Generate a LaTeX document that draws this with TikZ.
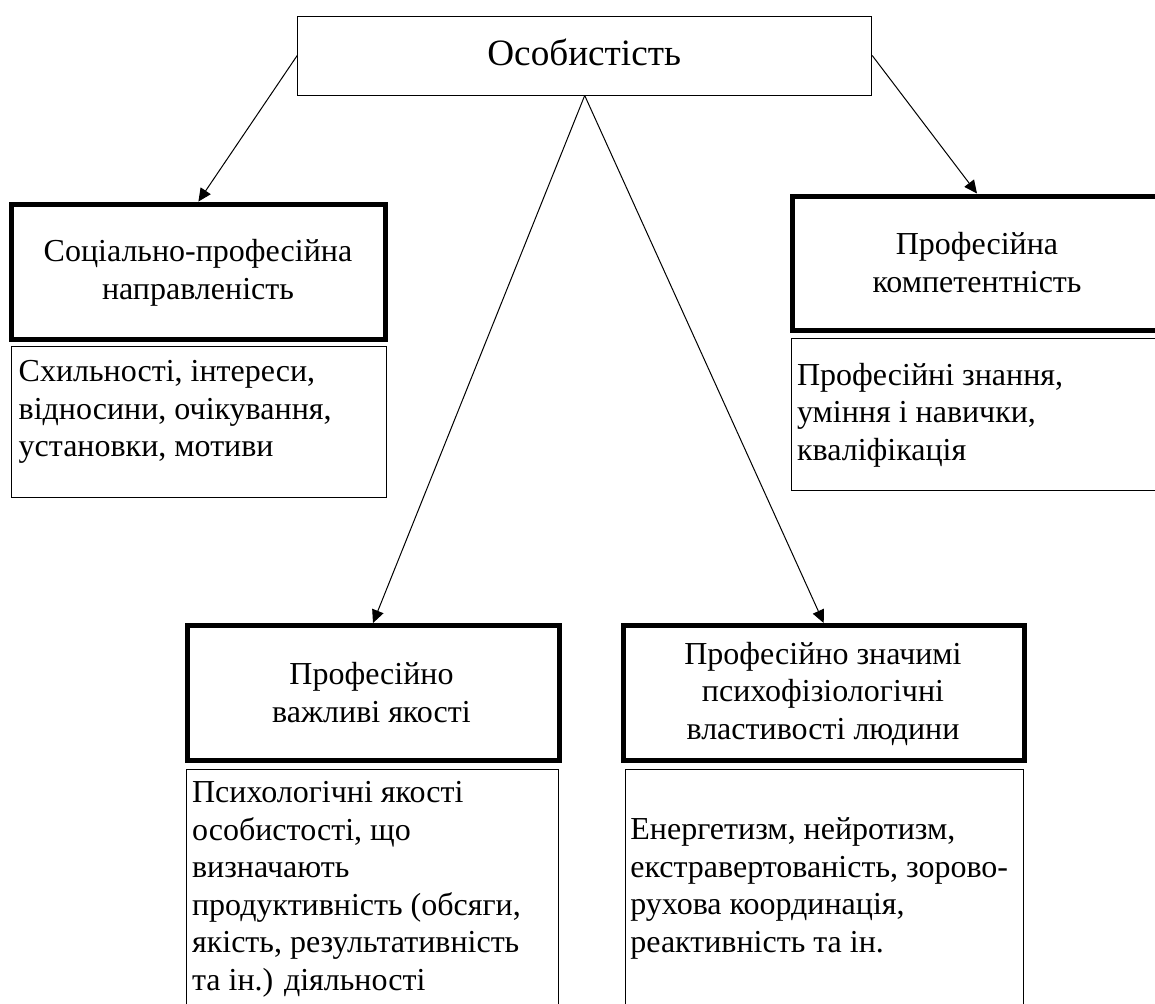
\documentclass[tikz,border=0pt]{standalone}
\usepackage{fontspec}
\setmainfont{Liberation Serif}
\usepackage{tikz}
\usetikzlibrary{arrows, arrows.meta}
\newcommand{\mypx}{0.5pt}
\newcommand{\bodysize}{\fontsize{16pt}{18.75pt}\selectfont}

\begin{document}
\begin{tikzpicture}[x=\mypx, y=-\mypx,
    thinbox/.style={draw, line width=0.5pt, inner sep=0pt},
    boldbox/.style={draw, line width=2.5pt, inner sep=0pt},
    headtext/.style={align=center, anchor=base, inner sep=0pt, font=\bodysize},
    notetext/.style={align=left, anchor=base west, inner sep=0pt, font=\bodysize},
    link/.style={line width=0.5pt, -{Triangle[length=6.5pt, width=6pt]}}]
  \useasboundingbox (0,0) rectangle (1155,1003);

  % Coordinates
  \coordinate (P) at (584.7, 55.5);
  \coordinate (S) at (198.4, 271.7);
  \coordinate (K) at (977, 263.25);
  \coordinate (Q) at (373, 693);
  \coordinate (R) at (823.7, 693);
  \coordinate (S1) at (198.85, 421.85);
  \coordinate (K1) at (990.85, 414.15);
  \coordinate (Q1) at (372.7, 904.5);
  \coordinate (R1) at (824, 904.5);

  % Boxes
  \node[thinbox, minimum width=287pt, minimum height=39.5pt] (pers) at (P) {};
  \node[boldbox, minimum width=186.9pt, minimum height=67.65pt] (napr) at (S) {};
  \node[boldbox, minimum width=184.5pt, minimum height=67.25pt] (komp) at (K) {};
  \node[boldbox, minimum width=186pt, minimum height=67.5pt] (yak) at (Q) {};
  \node[boldbox, minimum width=200.3pt, minimum height=67.5pt] (vlast) at (R) {};
  \node[thinbox, minimum width=187.15pt, minimum height=75.85pt] (naprnote) at (S1) {};
  \node[thinbox, minimum width=199.15pt, minimum height=75.85pt] (kompnote) at (K1) {};
  \node[thinbox, minimum width=186pt, minimum height=135.5pt] (yaknote) at (Q1) {};
  \node[thinbox, minimum width=199pt, minimum height=135.5pt] (vlastnote) at (R1) {};

  % Texts (anchored at the last baseline)
  \node[anchor=base, inner sep=0pt, font=\fontsize{18.6pt}{22pt}\selectfont] (perstext) at (584.2, 65) {Особистість};
  \node[headtext] (naprtext) at (198, 299) {Соціально-професійна\\направленість};
  \node[headtext] (komptext) at (977, 292.3) {Професійна\\компетентність};
  \node[headtext] (yaktext) at (371.5, 722) {Професійно\\важливі якості};
  \node[headtext] (vlasttext) at (823, 739.3) {Професійно значимі\\психофізіологічні\\властивості людини};
  \node[notetext] (naprlist) at (18.3, 456.7) {Схильності, інтереси,\\відносини, очікування,\\установки, мотиви};
  \node[notetext] (komplist) at (796.7, 460) {Професійні знання,\\уміння і навички,\\кваліфікація};
  \node[notetext] (yaklist) at (191.7, 990) {Психологічні якості\\особистості, що\\визначають\\продуктивність (обсяги,\\якість, результативність\\та ін.) діяльності};
  \node[notetext] (vlastlist) at (630, 952) {Енергетизм, нейротизм,\\екстравертованість, зорово-\\рухова координація,\\реактивність та ін.};

  % Drawing
  \draw[link] (pers.west) -- (napr.north);
  \draw[link] (pers.east) -- (komp.north);
  \draw[link] (pers.south) -- (yak.north);
  \draw[link] (pers.south) -- (vlast.north);
\end{tikzpicture}
\end{document}
